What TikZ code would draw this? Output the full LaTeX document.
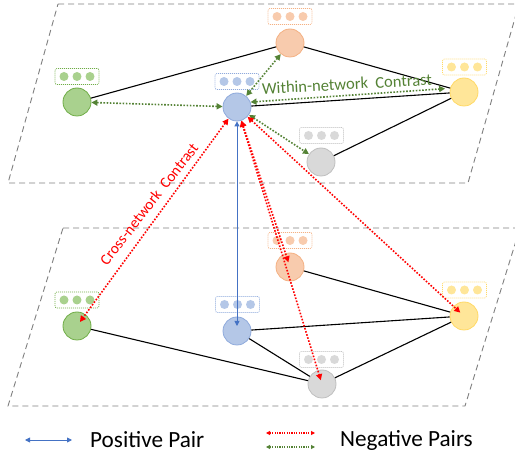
\documentclass[tikz,border=0pt]{standalone}
\usepackage{fontspec}
\setmainfont{Carlito}
\usetikzlibrary{arrows.meta,calc}
\definecolor{gF}{HTML}{A9D18E}\definecolor{gB}{HTML}{70AD47}
\definecolor{oF}{HTML}{F8CBAD}\definecolor{oB}{HTML}{F4B183}
\definecolor{bF}{HTML}{B4C7E7}\definecolor{bB}{HTML}{8FAADC}
\definecolor{yF}{HTML}{FFE699}\definecolor{yB}{HTML}{FFD966}
\definecolor{kF}{HTML}{D9D9D9}\definecolor{kB}{HTML}{BFBFBF}
\definecolor{darkgreen}{HTML}{548235}
\definecolor{posblue}{HTML}{4472C4}
\definecolor{planegray}{HTML}{7F7F7F}
\tikzset{
  plane/.style={draw=planegray, line width=0.9pt, dash pattern=on 6pt off 4pt},
  vtx/.style={circle, minimum size=28pt, inner sep=0pt, line width=0.8pt},
  feat/.style={draw, rounded corners=2pt, minimum width=44pt, minimum height=16pt, inner sep=0pt, line width=0.7pt, dash pattern=on 1pt off 1pt},
  fdot/.style={circle, minimum size=9pt, inner sep=0pt},
  edge/.style={black, line width=1.1pt},
  greenpair/.style={darkgreen, line width=1.6pt, dash pattern=on 1.6pt off 1.6pt, {Triangle[width=6pt,length=6pt]}-{Triangle[width=6pt,length=6pt]}},
  redpair/.style={red, line width=1.6pt, dash pattern=on 1.6pt off 1.6pt, {Triangle[width=6pt,length=6pt]}-{Triangle[width=6pt,length=6pt]}},
  pospair/.style={posblue, line width=0.9pt, {Triangle[width=5pt,length=5pt]}-{Triangle[width=5pt,length=5pt]}},
}
\newcommand{\featbox}[5]{%
  \node[feat, draw=#4] (#1) at (#2,#3) {};
  \node[fdot, fill=#5] (#1a) at (#2-13,#3) {};
  \node[fdot, fill=#5] (#1b) at (#2,#3) {};
  \node[fdot, fill=#5] (#1c) at (#2+13,#3) {};
}
\begin{document}
\begin{tikzpicture}[x=1pt,y=-1pt]
\useasboundingbox (0,0) rectangle (515,457);
% planes
\draw[plane] (58,4) -- (519,4) -- (468,183) -- (8,183) -- cycle;
\draw[plane] (63,228) -- (520,228) -- (465,406) -- (8,406) -- cycle;
% vertices
\node[vtx, draw=gB, fill=gF] (g1) at (77,102) {};
\node[vtx, draw=oB, fill=oF] (o1) at (290,43) {};
\node[vtx, draw=bB, fill=bF] (b1) at (237,107) {};
\node[vtx, draw=yB, fill=yF] (y1) at (464,92) {};
\node[vtx, draw=kB, fill=kF] (k1) at (321,162) {};
\node[vtx, draw=gB, fill=gF] (g2) at (77,326) {};
\node[vtx, draw=oB, fill=oF] (o2) at (290,267) {};
\node[vtx, draw=bB, fill=bF] (b2) at (237,331) {};
\node[vtx, draw=yB, fill=yF] (y2) at (464,316) {};
\node[vtx, draw=kB, fill=kF] (k2) at (322,384) {};
% edges
\draw[edge] (g1) -- (o1);
\draw[edge] (o1) -- (y1);
\draw[edge] (b1) -- (y1);
\draw[edge] (k1) -- (y1);
\draw[edge] (o2) -- (y2);
\draw[edge] (b2) -- (y2);
\draw[edge] (b2) -- (k2);
\draw[edge] (g2) -- (k2);
\draw[edge] (k2) -- (y2);
% feature boxes
\featbox{fo1}{290}{16.5}{oB}{oF}
\featbox{fb1}{237}{81.5}{bB}{bF}
\featbox{fg1}{77}{76.5}{gB}{gF}
\featbox{fy1}{464.5}{67}{yB}{yF}
\featbox{fk1}{321.5}{135.5}{kB}{kF}
\featbox{fo2}{290}{240.5}{oB}{oF}
\featbox{fb2}{237.5}{304.5}{bB}{bF}
\featbox{fk2}{321.5}{359.5}{kB}{kF}
\featbox{fg2}{77}{300}{gB}{gF}
\featbox{fy2}{464.5}{290}{yB}{yF}
% within-network pairs
\draw[greenpair] (b1) -- (g1);
\draw[greenpair] (b1) -- (o1);
\draw[greenpair, shorten >=5pt] (b1.20) -- (y1.165);
\draw[greenpair] (b1) -- (k1);
\node[text=darkgreen, font=\fontsize{16.5}{19}\selectfont, rotate=3, inner sep=0pt] (wlab) at (347,84) {Within-network\ \ Contrast};
% positive pair
\draw[pospair, shorten >=5pt] (b1) -- (b2.center);
% cross-network pairs
\draw[redpair, shorten >=5pt] (b1) -- (g2.center);
\draw[redpair, shorten >=5pt] (b1) -- (o2.center);
\draw[redpair, shorten >=4pt] (b1) -- (k2.center);
\draw[redpair, shorten >=5pt] (b1) -- (y2.center);
\node[text=red, font=\fontsize{15.3}{18}\selectfont, rotate=52, inner sep=0pt] (clab) at (149,204) {Cross-network\ \ Contrast};
% legend
\coordinate (pl1) at (25,440); \coordinate (pl2) at (72,440);
\draw[pospair] (pl1) -- (pl2);
\node[anchor=west, font=\fontsize{23.2}{27}\selectfont, inner sep=0pt] (ptext) at (90,440) {Positive Pair};
\coordinate (rl1) at (266,433); \coordinate (rl2) at (315,433);
\coordinate (gl1) at (266,447); \coordinate (gl2) at (315,447);
\draw[red, line width=1.2pt, dash pattern=on 1.2pt off 1.2pt, {Triangle[width=4pt,length=4pt]}-{Triangle[width=4pt,length=4pt]}] (rl1) -- (rl2);
\draw[darkgreen, line width=1.2pt, dash pattern=on 1.2pt off 1.2pt, {Triangle[width=4pt,length=4pt]}-{Triangle[width=4pt,length=4pt]}] (gl1) -- (gl2);
\node[anchor=west, font=\fontsize{23.2}{27}\selectfont, inner sep=0pt] (ntext) at (340,440) {Negative Pairs};
\end{tikzpicture}
\end{document}
